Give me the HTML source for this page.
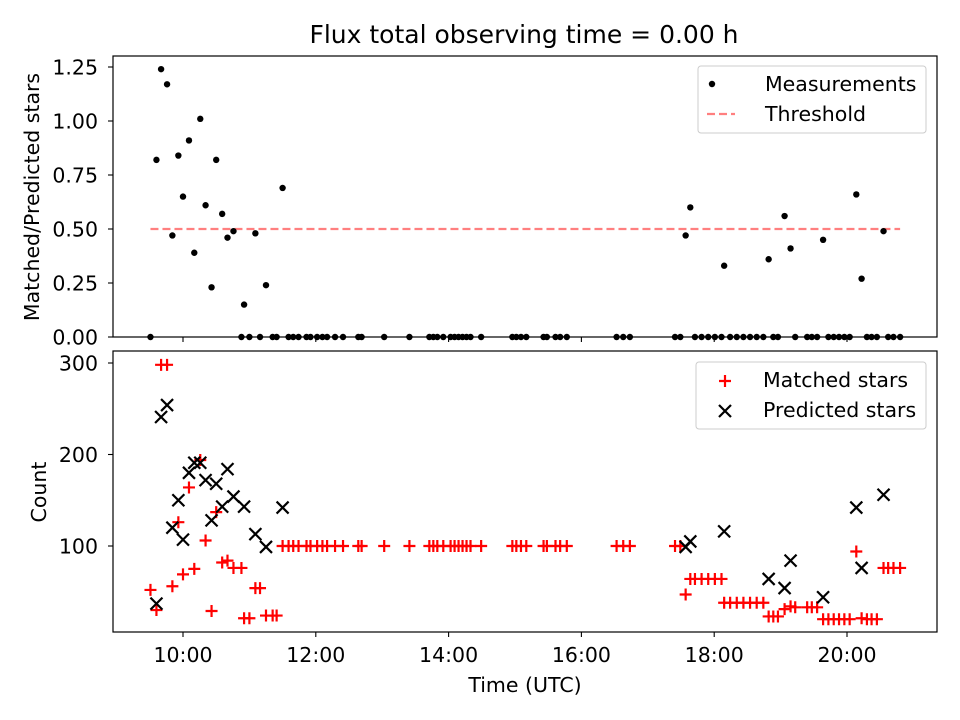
<!DOCTYPE html>
<html><head><meta charset="utf-8"><style>
html,body{margin:0;padding:0;background:#fff;}
svg{display:block;font-family:"DejaVu Sans","Liberation Sans",sans-serif;}
</style></head><body>
<svg id="fig" width="960" height="720" viewBox="0 0 960 720" xmlns="http://www.w3.org/2000/svg"></svg>
<script>
// ---- data ----
const times = [9.51,9.60,9.67,9.76,9.84,9.93,10.00,10.09,10.17,10.26,10.34,10.43,10.50,10.59,10.67,10.76,10.88,10.92,11.00,11.09,11.16,11.25,11.35,11.41,11.50,
11.59,11.66,11.74,11.86,11.92,12.02,12.10,12.17,12.29,12.41,12.64,12.69,13.03,13.41,13.71,13.77,13.83,13.92,14.03,14.09,14.15,14.21,14.27,14.33,14.49,14.96,15.02,15.09,15.17,
15.43,15.48,15.61,15.68,15.78,16.53,16.63,16.73,17.41,17.49,17.57,17.64,17.71,17.81,17.91,18.01,18.11,18.15,18.24,18.34,18.44,18.54,18.64,18.74,18.82,18.89,18.96,19.06,19.15,19.22,19.40,19.47,19.55,19.64,19.72,19.80,19.88,19.96,20.04,20.14,20.22,20.30,20.37,20.45,20.55,20.62,20.70,20.80];
const matched = [52,30,298,298,56,126,69,164,75,194,106,29,137,82,84,76,76,21,21,54,54,24,24,24,100,
100,100,100,100,100,100,100,100,100,100,100,100,100,100,100,100,100,100,100,100,100,100,100,100,100,100,100,100,100,
100,100,100,100,100,100,100,100,100,100,47,64,64,64,64,64,64,38,38,38,38,38,38,38,23,23,23,31,34,33,33,33,33,20,20,20,20,20,20,94,21,20,20,20,76,76,76,76];
const predicted = [null,37,241,254,120,150,107,180,191,191,172,128,168,143,184,154,null,143,null,113,null,99,null,null,142,
null,null,null,null,null,null,null,null,null,null,null,null,null,null,null,null,null,null,null,null,null,null,null,null,null,null,null,null,null,
null,null,null,null,null,null,null,null,null,null,99,105,null,null,null,null,null,116,null,null,null,null,null,null,64,null,null,54,84,null,null,null,null,44,null,null,null,null,null,142,76,null,null,null,156,null,null,null];
const ratio = [0,0.82,1.24,1.17,0.47,0.84,0.65,0.91,0.39,1.01,0.61,0.23,0.82,0.57,0.46,0.49,0,0.15,0,0.48,0,0.24,0,0,0.69,
0,0,0,0,0,0,0,0,0,0,0,0,0,0,0,0,0,0,0,0,0,0,0,0,0,0,0,0,0,
0,0,0,0,0,0,0,0,0,0,0.47,0.60,0,0,0,0,0,0.33,0,0,0,0,0,0,0.36,0,0,0.56,0.41,0,0,0,0,0.45,0,0,0,0,0,0.66,0.27,0,0,0,0.49,0,0,0];
const threshold = 0.5;
const xTickHours = [10,12,14,16,18,20];
const xTickLabels = ["10:00","12:00","14:00","16:00","18:00","20:00"];
const topTicks = [0,0.25,0.5,0.75,1.0,1.25];
const topTickLabels = ["0.00","0.25","0.50","0.75","1.00","1.25"];
const botTicks = [100,200,300];
const botTickLabels = ["100","200","300"];

// ---- axes ----
const L=113,R=937, T1=56,B1=337, T2=351,B2=632;
const FS=20.5;
const X = h => 183 + (h-10)*66.4;
const Y1 = v => 337 - v*216;
const Y2 = v => 546 - (v-100)*0.915;
const svg = document.getElementById('fig');
const NS='http://www.w3.org/2000/svg';
function el(tag, attrs, parent){const e=document.createElementNS(NS,tag);for(const k in attrs)e.setAttribute(k,attrs[k]);(parent||svg).appendChild(e);return e;}

const title = el('text',{x:524,y:43,'font-size':25,'text-anchor':'middle',fill:'#000'});
title.textContent='Flux total observing time = 0.00 h';



function frame(T,B,name){
  const r=el('rect',{x:L,y:T,width:R-L,height:B-T,fill:'none',stroke:'#000','stroke-width':1.2});
  
  
}
const gTop = el('g',{});


const thr = el('line',{x1:X(9.51),x2:X(20.80),y1:Y1(threshold),y2:Y1(threshold),stroke:'#ff7f7f','stroke-width':2.2,'stroke-dasharray':'8,4'},gTop);


times.forEach((t,i)=>{
  const c=el('circle',{cx:X(t),cy:Y1(ratio[i]),r:3.2,fill:'#000'},gTop);
  
  
});
const gBot = el('g',{});


function plus(x,y,col,g){return el('path',{d:`M${x-6},${y}H${x+6}M${x},${y-6}V${y+6}`,stroke:col,'stroke-width':2.2,fill:'none'},g);}
function cross(x,y,col,g){return el('path',{d:`M${x-6},${y-6}L${x+6},${y+6}M${x-6},${y+6}L${x+6},${y-6}`,stroke:col,'stroke-width':2.2,fill:'none'},g);}
times.forEach((t,i)=>{
  const p=plus(X(t),Y2(matched[i]),'#ff0000',gBot);
  
  
});
times.forEach((t,i)=>{
  if(predicted[i]===null) return;
  const p=cross(X(t),Y2(predicted[i]),'#000',gBot);
  
  
});
frame(T1,B1,'top-axes-frame');
frame(T2,B2,'bottom-axes-frame');

xTickHours.forEach((h,i)=>{
  el('line',{x1:X(h),x2:X(h),y1:B1,y2:B1+5,stroke:'#000','stroke-width':1.1});
  el('line',{x1:X(h),x2:X(h),y1:B2,y2:B2+5,stroke:'#000','stroke-width':1.1});
  const tx=el('text',{x:X(h),y:B2+30,'font-size':FS,'text-anchor':'middle'});
  tx.textContent=xTickLabels[i];
  
  
});
topTicks.forEach((v,i)=>{
  el('line',{x1:L-5,x2:L,y1:Y1(v),y2:Y1(v),stroke:'#000','stroke-width':1.1});
  const tx=el('text',{x:L-15,y:Y1(v)+7.5,'font-size':FS,'text-anchor':'end'});
  tx.textContent=topTickLabels[i];
  
  
});
botTicks.forEach((v,i)=>{
  el('line',{x1:L-5,x2:L,y1:Y2(v),y2:Y2(v),stroke:'#000','stroke-width':1.1});
  const tx=el('text',{x:L-15,y:Y2(v)+7.5,'font-size':FS,'text-anchor':'end'});
  tx.textContent=botTickLabels[i];
  
  
});
const xl=el('text',{x:525,y:692,'font-size':FS,'text-anchor':'middle'});
xl.textContent='Time (UTC)';


const yl1=el('text',{x:0,y:0,'font-size':FS,'text-anchor':'middle',transform:'translate(39,197) rotate(-90)'});
yl1.textContent='Matched/Predicted stars';


const yl2=el('text',{x:0,y:0,'font-size':FS,'text-anchor':'middle',transform:'translate(46,492) rotate(-90)'});
yl2.textContent='Count';



const lg1=el('g',{});


el('rect',{x:698,y:66,width:228,height:67,rx:3,fill:'#fff','fill-opacity':0.8,stroke:'#ccc','stroke-width':1},lg1);
el('circle',{cx:712,cy:84,r:3.2,fill:'#000'},lg1);
el('line',{x1:707,x2:735,y1:114,y2:114,stroke:'#ff7f7f','stroke-width':2.2,'stroke-dasharray':'8,4'},lg1);
const t1=el('text',{x:765,y:91,'font-size':FS},lg1);t1.textContent='Measurements';
const t2=el('text',{x:765,y:121,'font-size':FS},lg1);t2.textContent='Threshold';
const lg2=el('g',{});


el('rect',{x:696,y:362,width:230,height:67,rx:3,fill:'#fff','fill-opacity':0.8,stroke:'#ccc','stroke-width':1},lg2);
plus(725,381,'#ff0000',lg2);
cross(725,411,'#000',lg2);
const t3=el('text',{x:763,y:387,'font-size':FS},lg2);t3.textContent='Matched stars';
const t4=el('text',{x:763,y:417,'font-size':FS},lg2);t4.textContent='Predicted stars';
</script>
</body></html>
